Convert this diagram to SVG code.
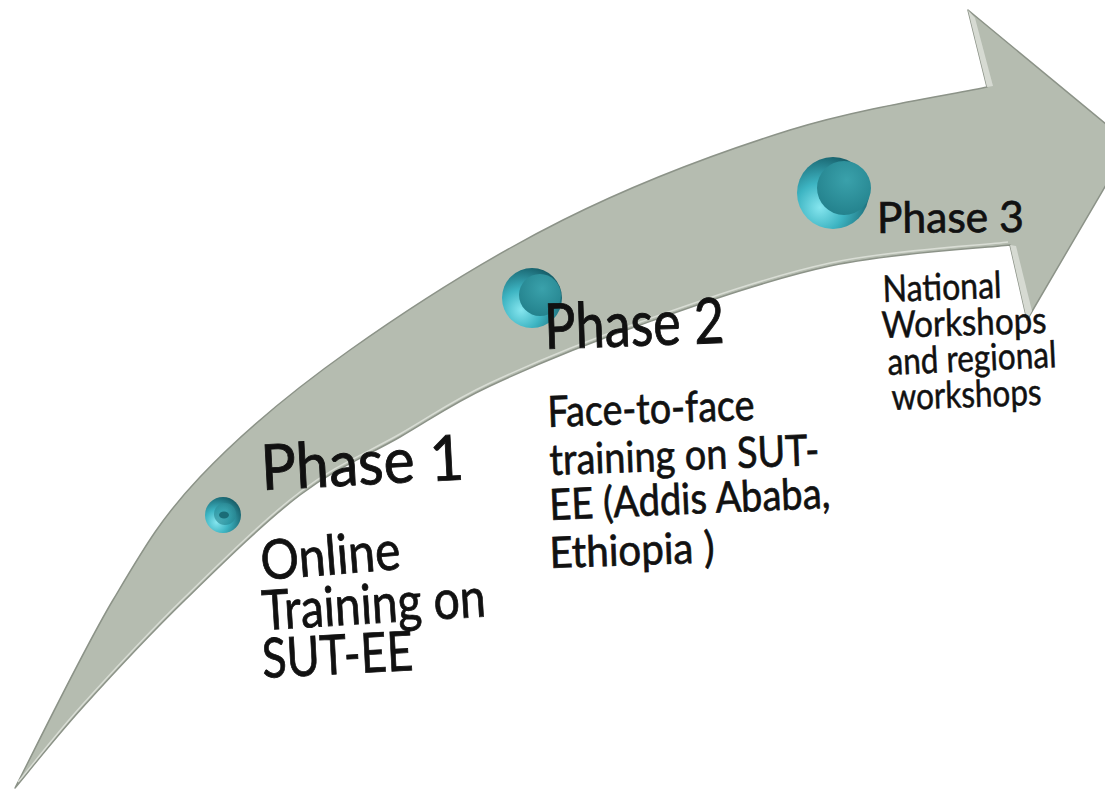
<svg xmlns="http://www.w3.org/2000/svg" width="1105" height="789" viewBox="0 0 1105 789">
  <style>
    .t { font-family: Lato, "Liberation Sans", sans-serif; fill: #111; stroke: #111; stroke-width: 0.7; }
    .big { font-size: 63px; stroke-width: 0.9; }
    .b1 { font-size: 55px; stroke-width: 0.8; }
    .b2 { font-size: 43px; }
    .h3 { font-size: 43px; }
    .b3 { font-size: 37px; stroke-width: 0.5; }
  </style>
  <defs>
    <radialGradient id="outer" cx="0.32" cy="0.7" r="0.75">
      <stop offset="0" stop-color="#86e6ef"/>
      <stop offset="0.45" stop-color="#3db4c2"/>
      <stop offset="1" stop-color="#17606b"/>
    </radialGradient>
    <radialGradient id="inner" cx="0.55" cy="0.35" r="0.7">
      <stop offset="0" stop-color="#3aa1ab"/>
      <stop offset="1" stop-color="#22808b"/>
    </radialGradient>
  </defs>

  <g id="arrow">
    <path d="M15,788 C31.3,756.7 82.2,651.8 113,600 C143.8,548.2 160.5,518.7 200,477 C239.5,435.3 289.5,392.8 350,350 C410.5,307.2 489.7,256.7 563,220 C636.3,183.3 719.3,152.2 790,130 C860.7,107.8 954.2,94.2 987,87 L968,10 L1130,144 L1027,320 L1010,245 C980,248.5 891.7,252.7 830,266 C768.3,279.3 696.7,305 640,325 C583.3,345 530,367.3 490,386 C450,404.7 431.7,418.8 400,437 C368.3,455.2 335.8,467.8 300,495 C264.2,522.2 221.2,564.7 185,600 C148.8,635.3 111.3,675.7 83,707 C54.7,738.3 26.3,774.5 15,788 Z" fill="#b5bcb0" stroke="#8c9388" stroke-width="1.5" stroke-linejoin="round"/>
    <path d="M1008,242 C980,245.5 891.7,249.7 830,263 C768.3,276.3 696.7,302 640,322 C583.3,342 530,364.3 490,383 C450,401.7 431.7,415.8 400,434 C368.3,452.2 335.8,464.8 300,492 C264.2,519.2 221.2,561.7 185,597 C148.8,632.3 111.3,672.7 83,704 C54.7,735.3 30,768 18,782" fill="none" stroke="#d9ddd5" stroke-width="1.5"/>
    <polygon points="968,10 987,87 993,86 975,18" fill="#d6dad2"/>
    <polygon points="1010,245 1027,320 1032,311 1016,246" fill="#d6dad2"/>
  </g>

  <g id="phase1">
    <circle cx="223" cy="515" r="18" fill="url(#outer)"/>
    <circle cx="225" cy="514" r="11" fill="url(#inner)" opacity="0.6"/>
    <ellipse cx="224" cy="515" rx="5" ry="3.5" fill="#1b6c77"/>
    <text class="t big" x="262" y="490" textLength="203" lengthAdjust="spacingAndGlyphs" transform="rotate(-3 262 490)">Phase 1</text>
    <text class="t b1" x="262" y="580" textLength="140" lengthAdjust="spacingAndGlyphs" transform="rotate(-4.5 262 580)">Online</text>
    <text class="t b1" x="263" y="630" textLength="224" lengthAdjust="spacingAndGlyphs" transform="rotate(-3.5 263 630)">Training on</text>
    <text class="t b1" x="263" y="678" textLength="151" lengthAdjust="spacingAndGlyphs" transform="rotate(-3 263 678)">SUT-EE</text>
  </g>

  <g id="phase2">
    <circle cx="532" cy="298" r="30" fill="url(#outer)"/>
    <circle cx="540" cy="295" r="21" fill="url(#inner)"/>
    <text class="t big" x="545" y="349" textLength="180" lengthAdjust="spacingAndGlyphs" transform="rotate(-2 545 349)">Phase 2</text>
    <text class="t b2" x="548" y="427" textLength="207" lengthAdjust="spacingAndGlyphs" transform="rotate(-2 548 427)">Face-to-face</text>
    <text class="t b2" x="550" y="475" textLength="270" lengthAdjust="spacingAndGlyphs" transform="rotate(-2.1 550 475)">training on SUT-</text>
    <text class="t b2" x="550" y="520" textLength="281" lengthAdjust="spacingAndGlyphs" transform="rotate(-2.5 550 520)">EE (Addis Ababa,</text>
    <text class="t b2" x="550" y="568" textLength="165" lengthAdjust="spacingAndGlyphs" transform="rotate(-2 550 568)">Ethiopia )</text>
  </g>

  <g id="phase3">
    <circle cx="833" cy="193" r="36" fill="url(#outer)"/>
    <circle cx="844" cy="188" r="27" fill="url(#inner)"/>
    <text class="t h3" x="877" y="233" textLength="147" lengthAdjust="spacingAndGlyphs" transform="rotate(-0.5 877 233)">Phase 3</text>
    <text class="t b3" x="883" y="302" textLength="119" lengthAdjust="spacingAndGlyphs" transform="rotate(-2 883 302)">National</text>
    <text class="t b3" x="882" y="338" textLength="165" lengthAdjust="spacingAndGlyphs" transform="rotate(-1.8 882 338)">Workshops</text>
    <text class="t b3" x="888" y="375" textLength="169" lengthAdjust="spacingAndGlyphs" transform="rotate(-2.7 888 375)">and regional</text>
    <text class="t b3" x="892" y="410" textLength="150" lengthAdjust="spacingAndGlyphs" transform="rotate(-2 892 410)">workshops</text>
  </g>
</svg>
